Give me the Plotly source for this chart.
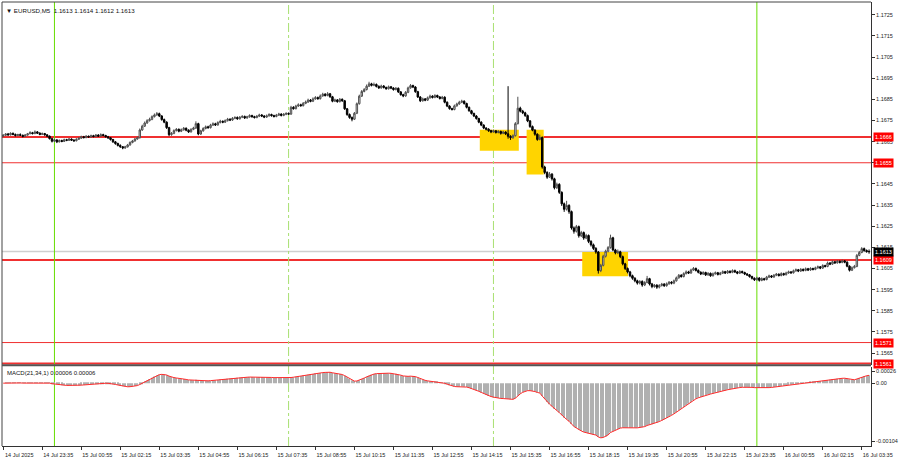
import pandas as pd
import plotly.graph_objects as go

chart_title = "\u25BC EURUSD,M5  1.1613 1.1614 1.1612 1.1613"
macd_title = "MACD(21,34,1) 0.00006 0.00006"

first_bar = "2025-07-14 22:15"
first_open = 1.16676

close = [
 1.16680,1.16686,1.16682,1.16689,1.16684,1.16679,1.16683,1.16680,1.16675,1.16681,
 1.16687,1.16692,1.16688,1.16696,1.16690,1.16684,1.16688,1.16682,1.16676,1.16664,
 1.16652,1.16658,1.16649,1.16655,1.16651,1.16659,1.16656,1.16662,1.16657,1.16654,
 1.16661,1.16666,1.16673,1.16669,1.16675,1.16672,1.16678,1.16674,1.16681,1.16676,
 1.16683,1.16679,1.16673,1.16668,1.16660,1.16649,1.16641,1.16632,1.16626,1.16620,
 1.16625,1.16634,1.16646,1.16653,1.16662,1.16668,1.16705,1.16723,1.16738,1.16749,
 1.16755,1.16768,1.16776,1.16782,1.16771,1.16754,1.16742,1.16716,1.16683,1.16689,
 1.16702,1.16708,1.16699,1.16706,1.16713,1.16704,1.16696,1.16708,1.16714,1.16735,
 1.16686,1.16701,1.16712,1.16720,1.16716,1.16728,1.16734,1.16729,1.16740,1.16746,
 1.16742,1.16749,1.16756,1.16752,1.16760,1.16764,1.16758,1.16765,1.16769,1.16762,
 1.16767,1.16773,1.16768,1.16764,1.16770,1.16776,1.16771,1.16766,1.16772,1.16778,
 1.16773,1.16769,1.16775,1.16780,1.16774,1.16779,1.16783,1.16780,1.16812,1.16806,
 1.16818,1.16824,1.16820,1.16831,1.16837,1.16846,1.16841,1.16852,1.16858,1.16853,
 1.16866,1.16874,1.16868,1.16876,1.16862,1.16841,1.16847,1.16839,1.16850,1.16843,
 1.16805,1.16778,1.16764,1.16756,1.16784,1.16829,1.16865,1.16887,1.16896,1.16912,
 1.16923,1.16916,1.16920,1.16911,1.16904,1.16913,1.16906,1.16900,1.16909,1.16903,
 1.16896,1.16902,1.16885,1.16872,1.16866,1.16883,1.16904,1.16915,1.16908,1.16886,
 1.16861,1.16843,1.16852,1.16846,1.16857,1.16865,1.16859,1.16868,1.16861,1.16854,
 1.16860,1.16836,1.16818,1.16806,1.16802,1.16819,1.16828,1.16836,1.16841,1.16830,
 1.16812,1.16796,1.16783,1.16771,1.16759,1.16742,1.16728,1.16714,1.16709,1.16702,
 1.16696,1.16701,1.16693,1.16698,1.16689,1.16695,1.16687,1.16675,1.16669,1.16678,
 1.16735,1.16808,1.16794,1.16786,1.16773,1.16748,1.16721,1.16704,1.16685,1.16660,
 1.16670,1.16530,1.16504,1.16482,1.16496,1.16474,1.16432,1.16448,1.16410,1.16356,
 1.16330,1.16348,1.16319,1.16242,1.16226,1.16248,1.16205,1.16220,1.16194,1.16206,
 1.16178,1.16162,1.16145,1.16128,1.16040,1.16065,1.16108,1.16132,1.16149,1.16195,
 1.16138,1.16124,1.16129,1.16106,1.16072,1.16050,1.16034,1.16016,1.16004,1.15992,
 1.15981,1.15989,1.15972,1.15984,1.16002,1.15977,1.15965,1.15971,1.15962,1.15970,
 1.15976,1.15969,1.15978,1.15985,1.15981,1.15992,1.16006,1.16018,1.16012,1.16026,
 1.16034,1.16029,1.16043,1.16050,1.16041,1.16032,1.16024,1.16031,1.16020,1.16027,
 1.16016,1.16025,1.16030,1.16022,1.16028,1.16035,1.16029,1.16037,1.16032,1.16040,
 1.16034,1.16028,1.16036,1.16031,1.16024,1.16020,1.16012,1.16004,1.15997,1.16005,
 1.15994,1.16002,1.15998,1.16009,1.16015,1.16010,1.16018,1.16023,1.16017,1.16026,
 1.16021,1.16029,1.16034,1.16030,1.16039,1.16044,1.16038,1.16046,1.16041,1.16049,
 1.16043,1.16050,1.16046,1.16053,1.16058,1.16052,1.16064,1.16060,1.16076,1.16071,
 1.16082,1.16077,1.16084,1.16079,1.16086,1.16080,1.16061,1.16042,1.16054,1.16060,
 1.16112,1.16126,1.16144,1.16135,1.16130,1.16130,
]

high = [
 1.16685,1.16690,1.16691,1.16694,1.16693,1.16688,1.16687,1.16689,1.16683,1.16686,
 1.16691,1.16699,1.16696,1.16703,1.16700,1.16694,1.16693,1.16691,1.16685,1.16679,
 1.16668,1.16663,1.16661,1.16660,1.16659,1.16664,1.16663,1.16667,1.16665,1.16661,
 1.16666,1.16671,1.16678,1.16677,1.16681,1.16679,1.16683,1.16682,1.16686,1.16685,
 1.16689,1.16687,1.16682,1.16677,1.16671,1.16663,1.16653,1.16645,1.16637,1.16629,
 1.16630,1.16639,1.16651,1.16658,1.16667,1.16674,1.16712,1.16730,1.16745,1.16756,
 1.16763,1.16774,1.16783,1.16790,1.16787,1.16775,1.16759,1.16746,1.16720,1.16695,
 1.16708,1.16714,1.16712,1.16712,1.16719,1.16717,1.16708,1.16713,1.16720,1.16746,
 1.16739,1.16706,1.16718,1.16726,1.16725,1.16734,1.16741,1.16739,1.16746,1.16753,
 1.16750,1.16755,1.16762,1.16760,1.16766,1.16770,1.16769,1.16771,1.16775,1.16773,
 1.16772,1.16779,1.16777,1.16772,1.16776,1.16782,1.16780,1.16775,1.16778,1.16784,
 1.16782,1.16777,1.16781,1.16786,1.16784,1.16785,1.16789,1.16788,1.16819,1.16817,
 1.16824,1.16831,1.16829,1.16837,1.16844,1.16853,1.16851,1.16859,1.16865,1.16863,
 1.16873,1.16881,1.16879,1.16884,1.16880,1.16866,1.16853,1.16851,1.16856,1.16854,
 1.16847,1.16809,1.16783,1.16769,1.16790,1.16835,1.16872,1.16894,1.16903,1.16920,
 1.16933,1.16928,1.16929,1.16925,1.16916,1.16919,1.16917,1.16910,1.16915,1.16913,
 1.16907,1.16908,1.16906,1.16889,1.16876,1.16889,1.16910,1.16922,1.16919,1.16912,
 1.16890,1.16865,1.16858,1.16856,1.16863,1.16872,1.16869,1.16874,1.16872,1.16865,
 1.16866,1.16864,1.16840,1.16822,1.16810,1.16825,1.16834,1.16843,1.16848,1.16845,
 1.16834,1.16816,1.16800,1.16787,1.16775,1.16763,1.16746,1.16732,1.16718,1.16713,
 1.16706,1.16707,1.16705,1.16704,1.16702,1.16701,1.16699,1.16912,1.16680,1.16684,
 1.16742,1.16862,1.16815,1.16800,1.16791,1.16778,1.16752,1.16726,1.16709,1.16689,
 1.16683,1.16674,1.16536,1.16510,1.16506,1.16501,1.16479,1.16456,1.16453,1.16415,
 1.16362,1.16370,1.16354,1.16324,1.16249,1.16256,1.16253,1.16228,1.16225,1.16214,
 1.16211,1.16184,1.16168,1.16151,1.16133,1.16072,1.16115,1.16139,1.16156,1.16210,
 1.16200,1.16143,1.16140,1.16134,1.16111,1.16077,1.16055,1.16039,1.16021,1.16009,
 1.15997,1.15995,1.15994,1.15990,1.16015,1.16006,1.15982,1.15977,1.15976,1.15976,
 1.15982,1.15981,1.15984,1.15991,1.15990,1.15998,1.16012,1.16024,1.16023,1.16032,
 1.16041,1.16039,1.16049,1.16057,1.16055,1.16046,1.16037,1.16037,1.16035,1.16033,
 1.16031,1.16031,1.16036,1.16034,1.16034,1.16041,1.16039,1.16043,1.16041,1.16046,
 1.16045,1.16038,1.16042,1.16040,1.16035,1.16029,1.16024,1.16016,1.16008,1.16011,
 1.16009,1.16008,1.16006,1.16015,1.16021,1.16019,1.16024,1.16029,1.16027,1.16032,
 1.16030,1.16035,1.16040,1.16038,1.16045,1.16050,1.16048,1.16052,1.16050,1.16055,
 1.16053,1.16056,1.16054,1.16059,1.16064,1.16062,1.16070,1.16068,1.16083,1.16081,
 1.16088,1.16086,1.16090,1.16088,1.16092,1.16090,1.16084,1.16065,1.16060,1.16067,
 1.16119,1.16133,1.16151,1.16149,1.16140,1.16140,
]

low = [
 1.16672,1.16677,1.16678,1.16679,1.16680,1.16674,1.16676,1.16677,1.16670,1.16672,
 1.16678,1.16685,1.16684,1.16685,1.16686,1.16680,1.16681,1.16678,1.16671,1.16660,
 1.16646,1.16648,1.16643,1.16646,1.16647,1.16648,1.16652,1.16653,1.16653,1.16649,
 1.16651,1.16658,1.16663,1.16665,1.16666,1.16668,1.16669,1.16670,1.16671,1.16672,
 1.16673,1.16675,1.16669,1.16663,1.16655,1.16644,1.16635,1.16627,1.16620,1.16614,
 1.16616,1.16622,1.16631,1.16642,1.16650,1.16659,1.16665,1.16701,1.16719,1.16734,
 1.16745,1.16751,1.16764,1.16772,1.16766,1.16749,1.16737,1.16710,1.16676,1.16678,
 1.16685,1.16698,1.16694,1.16695,1.16702,1.16699,1.16691,1.16693,1.16704,1.16710,
 1.16680,1.16682,1.16697,1.16708,1.16711,1.16712,1.16724,1.16724,1.16725,1.16736,
 1.16737,1.16738,1.16745,1.16747,1.16748,1.16756,1.16753,1.16754,1.16761,1.16757,
 1.16758,1.16763,1.16763,1.16759,1.16760,1.16766,1.16766,1.16761,1.16762,1.16768,
 1.16768,1.16764,1.16765,1.16771,1.16769,1.16770,1.16775,1.16776,1.16777,1.16801,
 1.16802,1.16814,1.16815,1.16816,1.16827,1.16833,1.16836,1.16837,1.16848,1.16848,
 1.16849,1.16862,1.16863,1.16864,1.16857,1.16836,1.16837,1.16834,1.16835,1.16838,
 1.16800,1.16772,1.16758,1.16746,1.16752,1.16780,1.16825,1.16861,1.16883,1.16892,
 1.16908,1.16911,1.16912,1.16906,1.16899,1.16900,1.16901,1.16895,1.16896,1.16898,
 1.16891,1.16892,1.16880,1.16867,1.16860,1.16862,1.16879,1.16900,1.16903,1.16881,
 1.16856,1.16837,1.16839,1.16841,1.16842,1.16853,1.16854,1.16855,1.16856,1.16849,
 1.16850,1.16831,1.16813,1.16801,1.16797,1.16798,1.16815,1.16824,1.16832,1.16825,
 1.16807,1.16791,1.16778,1.16766,1.16754,1.16737,1.16723,1.16709,1.16703,1.16696,
 1.16690,1.16692,1.16688,1.16689,1.16683,1.16685,1.16681,1.16664,1.16658,1.16663,
 1.16674,1.16731,1.16788,1.16780,1.16767,1.16742,1.16715,1.16699,1.16678,1.16654,
 1.16656,1.16522,1.16496,1.16474,1.16478,1.16466,1.16424,1.16426,1.16403,1.16346,
 1.16318,1.16324,1.16309,1.16234,1.16215,1.16220,1.16196,1.16199,1.16186,1.16189,
 1.16170,1.16154,1.16138,1.16120,1.16026,1.16033,1.16060,1.16102,1.16126,1.16144,
 1.16132,1.16117,1.16118,1.16099,1.16065,1.16043,1.16027,1.16009,1.15997,1.15985,
 1.15974,1.15975,1.15964,1.15967,1.15980,1.15970,1.15957,1.15959,1.15954,1.15956,
 1.15965,1.15963,1.15964,1.15973,1.15975,1.15976,1.15988,1.16002,1.16007,1.16008,
 1.16022,1.16024,1.16025,1.16039,1.16036,1.16027,1.16019,1.16020,1.16015,1.16016,
 1.16011,1.16012,1.16021,1.16017,1.16018,1.16024,1.16024,1.16025,1.16027,1.16028,
 1.16029,1.16023,1.16024,1.16026,1.16019,1.16015,1.16007,1.15998,1.15991,1.15993,
 1.15988,1.15990,1.15992,1.15994,1.16005,1.16005,1.16006,1.16014,1.16012,1.16013,
 1.16016,1.16017,1.16025,1.16025,1.16026,1.16035,1.16033,1.16034,1.16036,1.16037,
 1.16038,1.16039,1.16041,1.16042,1.16049,1.16047,1.16048,1.16055,1.16056,1.16066,
 1.16067,1.16072,1.16073,1.16074,1.16075,1.16075,1.16056,1.16036,1.16038,1.16050,
 1.16056,1.16108,1.16122,1.16130,1.16125,1.16120,
]

price_ticks = [1.1565, 1.1575, 1.1585, 1.1595, 1.1605, 1.1615, 1.1625, 1.1635, 1.1645,
               1.1655, 1.1665, 1.1675, 1.1685, 1.1695, 1.1705, 1.1715, 1.1725]
price_tick_text = ["1.1565", "1.1575", "1.1585", "1.1595", "1.1605", "1.1615", "1.1625", "1.1635", "1.1645",
                   "1.1655", "1.1665", "1.1675", "1.1685", "1.1695", "1.1705", "1.1715", "1.1725"]

tick_times = ["2025-07-14 22:15", "2025-07-14 23:35", "2025-07-15 00:55", "2025-07-15 02:15",
              "2025-07-15 03:35", "2025-07-15 04:55", "2025-07-15 06:15", "2025-07-15 07:35",
              "2025-07-15 08:55", "2025-07-15 10:15", "2025-07-15 11:35", "2025-07-15 12:55",
              "2025-07-15 14:15", "2025-07-15 15:35", "2025-07-15 16:55", "2025-07-15 18:15",
              "2025-07-15 19:35", "2025-07-15 20:55", "2025-07-15 22:15", "2025-07-15 23:35",
              "2025-07-16 00:55", "2025-07-16 02:15", "2025-07-16 03:35"]
tick_labels = ["14 Jul 2025", "14 Jul 23:35", "15 Jul 00:55", "15 Jul 02:15", "15 Jul 03:35",
               "15 Jul 04:55", "15 Jul 06:15", "15 Jul 07:35", "15 Jul 08:55", "15 Jul 10:15",
               "15 Jul 11:35", "15 Jul 12:55", "15 Jul 14:15", "15 Jul 15:35", "15 Jul 16:55",
               "15 Jul 18:15", "15 Jul 19:35", "15 Jul 20:55", "15 Jul 22:15", "15 Jul 23:35",
               "16 Jul 00:55", "16 Jul 02:15", "16 Jul 03:35"]

level_prices = [1.16672, 1.16550, 1.16090, 1.15700, 1.15601]
level_labels = ["1.1666", "1.1655", "1.1609", "1.1571", "1.1561"]
level_major = [True, False, True, False, True]
bid_price = 1.1613
bid_label = "1.1613"

zone_start = ["2025-07-15 14:32", "2025-07-15 16:08", "2025-07-15 18:02"]
zone_end = ["2025-07-15 15:52", "2025-07-15 16:43", "2025-07-15 19:36"]
zone_low = [1.16607, 1.16494, 1.16013]
zone_high = [1.16706, 1.16706, 1.16128]

day_breaks = ["2025-07-15 00:00", "2025-07-16 00:00"]
session_marks = ["2025-07-15 08:00", "2025-07-15 15:00"]

macd_ticks = [0.000215, 0.0, -0.00104]
macd_tick_text = ["0.00026", "0.00", "-0.00104"]

# ---------------------------------------------------------------
times = pd.date_range(first_bar, periods=len(close), freq="5min")
opens = [first_open] + close[:-1]

s = pd.Series(close)
macd = s.ewm(span=21, adjust=False).mean() - s.ewm(span=34, adjust=False).mean()
signal = macd.rolling(1).mean()

x_start = str(times[0] - pd.Timedelta(minutes=2.5))
x_end = str(times[-1] + pd.Timedelta(minutes=4))

FONT = "Liberation Sans"
MAIN_DOM = [0.182, 1.0]
MACD_DOM = [0.0, 0.1775]

fig = go.Figure()
fig.add_trace(go.Candlestick(
    x=times, open=opens, high=high, low=low, close=close,
    increasing=dict(line=dict(color="#505050", width=1), fillcolor="#d8d8d8"),
    decreasing=dict(line=dict(color="#000000", width=1), fillcolor="#000000"),
    whiskerwidth=0, hoverinfo="skip", xaxis="x", yaxis="y"))

fig.add_trace(go.Bar(x=times, y=macd, marker=dict(color="#b0b0b0", line=dict(width=0)),
                     width=150000, xaxis="x", yaxis="y2", hoverinfo="skip"))
fig.add_trace(go.Scatter(x=times, y=signal, mode="lines", line=dict(color="#ff2a2a", width=1),
                         xaxis="x", yaxis="y2", hoverinfo="skip"))

shapes = []
for xs, xe, lo, hi in zip(zone_start, zone_end, zone_low, zone_high):
    shapes.append(dict(type="rect", xref="x", yref="y", x0=xs, x1=xe, y0=lo, y1=hi,
                       fillcolor="#ffd400", line=dict(width=0), layer="below"))
shapes.append(dict(type="line", xref="paper", yref="y", x0=0, x1=1, y0=bid_price, y1=bid_price,
                   line=dict(color="#cfcfcf", width=1.5), layer="below"))
for p, major in zip(level_prices, level_major):
    shapes.append(dict(type="line", xref="paper", yref="y", x0=0, x1=1, y0=p, y1=p,
                       line=dict(color="#f03030", width=2 if major else 1), layer="below"))
for t in day_breaks:
    shapes.append(dict(type="line", xref="x", yref="paper", x0=t, x1=t, y0=0, y1=1,
                       line=dict(color="#66dd00", width=1), layer="below"))
for t in session_marks:
    shapes.append(dict(type="line", xref="x", yref="paper", x0=t, x1=t, y0=0, y1=1,
                       line=dict(color="#a8e070", width=1, dash="dashdot"), layer="below"))
# pane frames
shapes.append(dict(type="line", xref="paper", yref="paper", x0=0, x1=0, y0=0, y1=1,
                   line=dict(color="#444444", width=1)))
shapes.append(dict(type="line", xref="paper", yref="paper", x0=0, x1=1, y0=1, y1=1,
                   line=dict(color="#444444", width=1)))
shapes.append(dict(type="line", xref="paper", yref="paper", x0=0, x1=1, y0=MAIN_DOM[0], y1=MAIN_DOM[0],
                   line=dict(color="#555555", width=2)))

annotations = [
    dict(text=chart_title, xref="paper", yref="paper", x=0, y=1, xanchor="left", yanchor="top",
         xshift=2, yshift=-3, showarrow=False, font=dict(family=FONT, size=6.2, color="#111")),
    dict(text=macd_title, xref="paper", yref="paper", x=0, y=MACD_DOM[1], xanchor="left", yanchor="top",
         xshift=3, yshift=-1, showarrow=False, font=dict(family=FONT, size=6, color="#111")),
]
for p, lab in zip(level_prices, level_labels):
    annotations.append(dict(text=lab, xref="paper", yref="y", x=1, y=p, xanchor="left", yanchor="middle",
                            xshift=2, showarrow=False, bgcolor="#ff0000", borderpad=1,
                            font=dict(family=FONT, size=5.5, color="white")))
annotations.append(dict(text=bid_label, xref="paper", yref="y", x=1, y=bid_price, xanchor="left",
                        yanchor="middle", xshift=2, showarrow=False, bgcolor="#000000", borderpad=1,
                        font=dict(family=FONT, size=5.5, color="white")))

tickfont = dict(family=FONT, size=5.5, color="#222")
fig.update_layout(
    width=900, height=460,
    margin=dict(l=2, r=25, t=2, b=13),
    paper_bgcolor="white", plot_bgcolor="white",
    showlegend=False, hovermode=False, boxgap=0.15,
    xaxis=dict(type="date", range=[x_start, x_end], anchor="y2",
               tickmode="array", tickvals=tick_times, ticktext=tick_labels,
               ticks="outside", ticklen=3, tickcolor="#333", tickfont=tickfont,
               ticklabelshift=16, ticklabelstandoff=0,
               showgrid=False, zeroline=False, showline=True, linecolor="#333", linewidth=1,
               rangeslider=dict(visible=False)),
    yaxis=dict(domain=MAIN_DOM, range=[1.15593, 1.17310], side="right", anchor="x",
               tickmode="array", tickvals=price_ticks, ticktext=price_tick_text,
               ticks="outside", ticklen=3, tickcolor="#333", tickfont=tickfont,
               showgrid=False, zeroline=False, showline=True, linecolor="#333", linewidth=1),
    yaxis2=dict(domain=MACD_DOM, range=[-0.001129, 0.000287], side="right", anchor="x",
                tickmode="array", tickvals=macd_ticks, ticktext=macd_tick_text,
                ticks="outside", ticklen=3, tickcolor="#333", tickfont=tickfont,
                showgrid=False, zeroline=False, showline=True, linecolor="#333", linewidth=1),
    shapes=shapes, annotations=annotations,
)

fig.write_html("out.html", config={"displayModeBar": False},
               post_script="document.body.style.margin='0';document.body.style.overflow='hidden';")
